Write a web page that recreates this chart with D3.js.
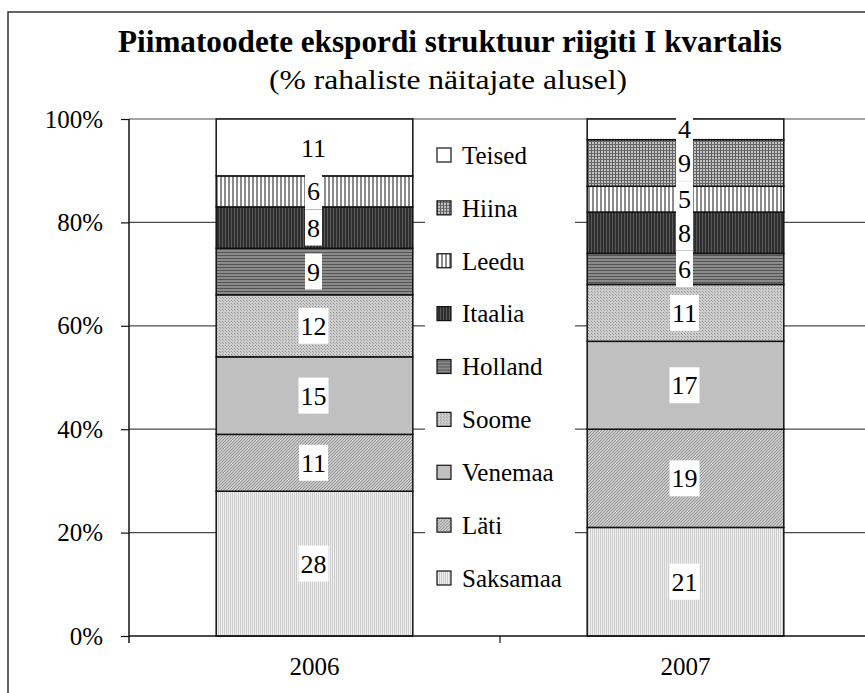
<!DOCTYPE html>
<html lang="et">
<head>
<meta charset="utf-8">
<title>Piimatoodete ekspordi struktuur</title>
<script src="https://d3js.org/d3.v7.min.js"></script>
<style>
  body { margin: 0; background: #fff; }
  text { font-family: "Liberation Serif", "Times New Roman", serif; fill: #000; }
</style>
</head>
<body>
<svg width="865" height="693"></svg>
<script>
  // data
  var years = ["2006", "2007"];
  var countries = ["Saksamaa", "Läti", "Venemaa", "Soome", "Holland", "Itaalia", "Leedu", "Hiina", "Teised"];
  var v2006 = [28, 11, 15, 12, 9, 8, 6, 0, 11];
  var v2007 = [21, 19, 17, 11, 6, 8, 5, 9, 4];
  var yTicks = [0, 20, 40, 60, 80, 100];

  var svg = d3.select("svg"),
    width = +svg.attr("width"),
    height = +svg.attr("height");

  // fill patterns (black & white excel style)
  var defs = svg.append("defs");
  function pat(id, w, h, bg, draw) {
    var p = defs.append("pattern").attr("id", id)
      .attr("patternUnits", "userSpaceOnUse").attr("width", w).attr("height", h);
    p.append("rect").attr("width", w).attr("height", h).attr("fill", bg);
    draw(p);
  }
  pat("p-saksamaa", 2, 2, "#f0f0f0", function (p) {
    p.append("rect").attr("width", 1).attr("height", 2).attr("fill", "#cccccc");
  });
  pat("p-lati", 3, 3, "#c6c6c6", function (p) {
    p.append("path").attr("d", "M0,3L3,0M-1,1L1,-1M2,4L4,2").attr("stroke", "#9a9a9a").attr("stroke-width", 1);
  });
  pat("p-venemaa", 4, 4, "#c0c0c0", function (p) { });
  pat("p-soome", 3, 3, "#cdcdcd", function (p) {
    p.append("rect").attr("width", 1).attr("height", 1).attr("fill", "#939393");
    p.append("rect").attr("x", 1).attr("y", 1).attr("width", 1).attr("height", 1).attr("fill", "#a6a6a6");
  });
  pat("p-holland", 3, 3, "#8a8a8a", function (p) {
    p.append("rect").attr("width", 3).attr("height", 1).attr("fill", "#555");
  });
  pat("p-itaalia", 3, 3, "#2e2e2e", function (p) {
    p.append("rect").attr("width", 1).attr("height", 3).attr("fill", "#5a5a5a");
  });
  pat("p-leedu", 4, 4, "#ffffff", function (p) {
    p.append("rect").attr("width", 2).attr("height", 4).attr("fill", "#8c8c8c");
  });
  pat("p-hiina", 3, 3, "#c4c4c4", function (p) {
    p.append("rect").attr("width", 1).attr("height", 3).attr("fill", "#5c5c5c");
    p.append("rect").attr("width", 3).attr("height", 1).attr("fill", "#6a6a6a");
  });
  var fills = ["url(#p-saksamaa)", "url(#p-lati)", "url(#p-venemaa)", "url(#p-soome)", "url(#p-holland)",
    "url(#p-itaalia)", "url(#p-leedu)", "url(#p-hiina)", "#ffffff"];
  var color = d3.scaleOrdinal().domain(countries).range(fills);

  // chart frame (cut at right and bottom like the source picture)
  svg.append("path").attr("d", "M8," + height + "V12H" + width)
    .attr("fill", "none").attr("stroke", "#333").attr("stroke-width", 1.5);

  svg.append("text").attr("x", 450).attr("y", 52).attr("text-anchor", "middle")
    .attr("font-weight", "bold").attr("font-size", 32)
    .attr("textLength", 664).attr("lengthAdjust", "spacingAndGlyphs")
    .text("Piimatoodete ekspordi struktuur riigiti I kvartalis");
  svg.append("text").attr("x", 448).attr("y", 89).attr("text-anchor", "middle")
    .attr("font-size", 27)
    .attr("textLength", 358).attr("lengthAdjust", "spacingAndGlyphs")
    .text("(% rahaliste näitajate alusel)");

  var x = d3.scaleBand().domain(years).range([129, 871]);
  var y = d3.scaleLinear().domain([0, 100]).range([636, 119]);
  var barW = x.bandwidth() * 0.53;

  // gridlines
  svg.append("g").selectAll("line").data(yTicks.slice(1)).enter().append("line")
    .attr("x1", 129).attr("x2", width).attr("y1", function (d) { return y(d); }).attr("y2", function (d) { return y(d); })
    .attr("stroke", "#4a4a4a").attr("stroke-width", 1.2);

  // stacked bars
  var rows = years.map(function (yr, i) {
    var r = { year: yr };
    var vals = i === 0 ? v2006 : v2007;
    countries.forEach(function (c, j) { r[c] = vals[j]; });
    return r;
  });
  var series = d3.stack().keys(countries)(rows);

  var layer = svg.append("g").selectAll("g").data(series).enter().append("g")
    .attr("fill", function (d) { return color(d.key); });
  layer.selectAll("rect").data(function (d) { return d.filter(function (s) { return s[1] > s[0]; }); })
    .enter().append("rect")
    .attr("x", function (d) { return x(d.data.year) + (x.bandwidth() - barW) / 2; })
    .attr("width", barW)
    .attr("y", function (d) { return y(d[1]); })
    .attr("height", function (d) { return y(d[0]) - y(d[1]); })
    .attr("stroke", "#111").attr("stroke-width", 1.5);

  // data labels with white boxes
  var labels = svg.append("g");
  series.forEach(function (s) {
    s.forEach(function (d) {
      var v = d[1] - d[0];
      if (v <= 0) return;
      var cx = x(d.data.year) + x.bandwidth() / 2 - 1;
      var cy = y((d[0] + d[1]) / 2);
      var g = labels.append("g");
      var box = g.append("rect").attr("fill", "#fff");
      var t = g.append("text").attr("x", cx).attr("y", cy).attr("dy", "0.35em")
        .attr("text-anchor", "middle").attr("font-size", 26).text(v);
      var w = t.node().getBBox().width;
      box.attr("x", cx - w / 2 - 2).attr("width", w + 4).attr("y", cy - 18).attr("height", 36);
    });
  });

  // legend
  var legend = svg.append("g");
  legend.append("rect").attr("x", 425).attr("y", 128).attr("width", 150).attr("height", 478).attr("fill", "#fff");
  var legItems = countries.slice().reverse();
  var ly = d3.scalePoint().domain(legItems).range([155, 578]);
  var li = legend.selectAll("g.item").data(legItems).enter().append("g").attr("class", "item")
    .attr("transform", function (d) { return "translate(437," + ly(d) + ")"; });
  li.append("rect").attr("x", 0).attr("y", -7).attr("width", 14).attr("height", 14)
    .attr("fill", function (d) { return color(d); }).attr("stroke", "#111").attr("stroke-width", 1.2);
  li.append("text").attr("x", 25).attr("dy", "0.35em").attr("font-size", 25).text(function (d) { return d; });

  // y axis
  var yAxis = svg.append("g").attr("transform", "translate(129,0)")
    .call(d3.axisLeft(y).tickValues(yTicks).tickFormat(function (d) { return d + "%"; }).tickSize(8).tickPadding(18));
  yAxis.select(".domain").attr("stroke", "#111").attr("stroke-width", 1.5).attr("d", "M0,119V643");
  yAxis.selectAll(".tick line").attr("stroke", "#111").attr("stroke-width", 1.2);
  yAxis.selectAll(".tick text").attr("font-size", 25);

  // x axis
  var xAxis = svg.append("g").attr("transform", "translate(0,636)")
    .call(d3.axisBottom(x).tickSize(0).tickPadding(21));
  xAxis.select(".domain").attr("d", "M129,0H" + width).attr("stroke", "#111").attr("stroke-width", 1.5);
  xAxis.selectAll(".tick text").attr("font-size", 25);
  xAxis.selectAll("line.sep").data(years.slice(1)).enter().append("line").attr("class", "sep")
    .attr("x1", function (d) { return x(d); }).attr("x2", function (d) { return x(d); })
    .attr("y1", 0).attr("y2", 7).attr("stroke", "#111").attr("stroke-width", 1.2);
</script>
</body>
</html>
